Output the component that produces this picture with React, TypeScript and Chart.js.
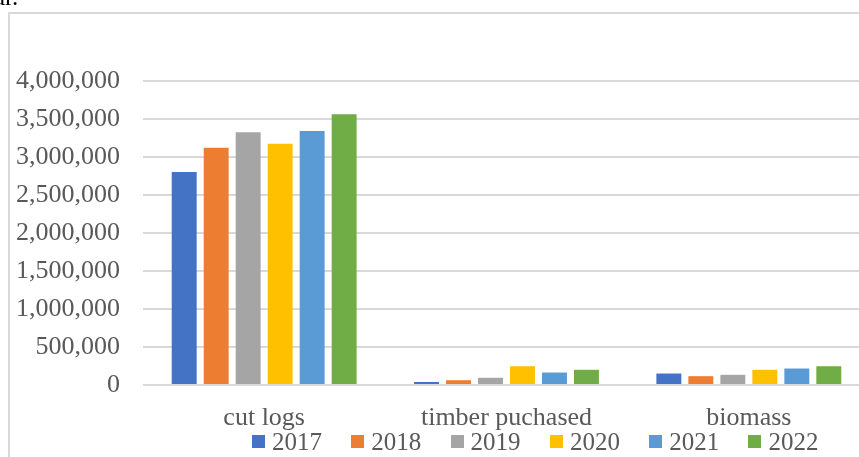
import React, { useEffect, useRef } from "react";
import { Chart, registerables } from "chart.js";

Chart.register(...registerables);

const categories = ["cut logs", "timber puchased", "biomass"];
const years = ["2017", "2018", "2019", "2020", "2021", "2022"];
const colors = ["#4472C4", "#ED7D31", "#A5A5A5", "#FFC000", "#5B9BD5", "#70AD47"];
const v2017 = [2803000, 40000, 151000];
const v2018 = [3122000, 63000, 116000];
const v2019 = [3325000, 95000, 134000];
const v2020 = [3175000, 247000, 200000];
const v2021 = [3342000, 164000, 217000];
const v2022 = [3562000, 200000, 247000];
const seriesValues = [v2017, v2018, v2019, v2020, v2021, v2022];
const yTicks = [0, 500000, 1000000, 1500000, 2000000, 2500000, 3000000, 3500000, 4000000];

const FONT = "'Liberation Serif', 'Times New Roman', serif";
const TEXT = "#595959";

export default function App() {
  const ref = useRef<HTMLCanvasElement | null>(null);
  useEffect(() => {
    document.body.style.overflow = "hidden";
    const chart = new Chart(ref.current as HTMLCanvasElement, {
      type: "bar",
      data: {
        labels: categories,
        datasets: years.map((y, i) => ({
          label: y,
          data: seriesValues[i],
          backgroundColor: colors[i],
          borderWidth: 0,
          categoryPercentage: 0.792,
          barPercentage: 0.78,
        })),
      },
      options: {
        animation: false,
        responsive: false,
        devicePixelRatio: 1,
        layout: { padding: { top: 81, right: 30, bottom: 12, left: 0 } },
        plugins: { legend: { display: false }, tooltip: { enabled: false } },
        scales: {
          x: {
            grid: { display: false },
            border: { display: false },
            ticks: { color: TEXT, font: { family: FONT, size: 26 }, padding: 10 },
            afterFit: (s: any) => { s.height = 60; },
          },
          y: {
            min: 0,
            max: 4000000,
            afterBuildTicks: (s: any) => { s.ticks = yTicks.map((v) => ({ value: v })); },
            grid: { color: "#d9d9d9", lineWidth: 2, drawTicks: false },
            border: { display: false },
            ticks: {
              color: TEXT,
              font: { family: FONT, size: 26 },
              padding: 23,
              callback: (v: any) => Number(v).toLocaleString("en-US"),
            },
            afterFit: (s: any) => { s.width = 143; },
          },
        },
      },
    });
    return () => chart.destroy();
  }, []);

  return (
    <div>
      <div style={{ position: "fixed", left: -6, top: -16, fontFamily: FONT, fontSize: 25, lineHeight: "25px", color: "#000" }}>ar.</div>
      <div style={{ position: "fixed", left: 8, top: 12, width: 2000, height: 2000, borderLeft: "2px solid #d9d9d9", borderTop: "2px solid #d9d9d9" }} />
      <canvas ref={ref} width={900} height={457} style={{ position: "fixed", left: 0, top: 0, width: 900, height: 457 }} />
      <div style={{ position: "fixed", left: 252, top: 429, height: 25, display: "flex", alignItems: "center", fontFamily: FONT, fontSize: 25, lineHeight: "25px", color: TEXT }}>
        {years.map((y, i) => (
          <div key={y} style={{ width: 99.3, display: "flex", alignItems: "center" }}>
            <span style={{ display: "inline-block", width: 13, height: 13, background: colors[i], marginRight: 7 }} />
            <span>{y}</span>
          </div>
        ))}
      </div>
    </div>
  );
}
